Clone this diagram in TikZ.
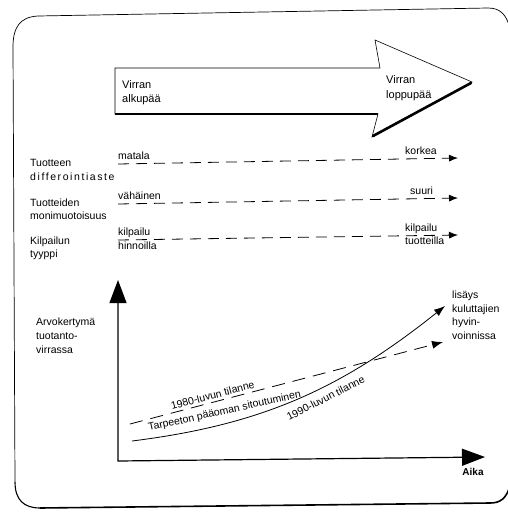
\documentclass[tikz,border=0pt]{standalone}
\usepackage{fontspec}
\setmainfont{Liberation Sans}
\newfontfamily\widefont[LetterSpace=15]{Liberation Sans}
\usetikzlibrary{arrows.meta}
\begin{document}
\begin{tikzpicture}[x=1pt,y=-1pt,
  txt/.style={font=\fontsize{10.5}{12.5}\selectfont, inner sep=0pt, anchor=west, text height=7.5pt, text depth=2pt},
  bigtxt/.style={font=\fontsize{11}{13}\selectfont, inner sep=0pt, anchor=west, text height=8pt, text depth=2pt},
  curvetxt/.style={font=\fontsize{10.5}{12}\selectfont, inner sep=0pt, anchor=base west},
  rowline/.style={line width=0.8pt, dash pattern=on 11pt off 7pt, -{Latex[length=9pt,width=7pt]}},
  axisline/.style={line width=1.2pt, {Triangle[length=23pt,width=17pt]}-{Triangle[length=23pt,width=17pt]}},
  chartline/.style={line width=0.8pt, -{Latex[length=11pt,width=8pt]}},
  frame/.style={line width=0.7pt}
]
\useasboundingbox (0,0) rectangle (507,512);

% frame
\draw[frame] (15,482) -- (13,47) .. controls (13,27) and (20,17) .. (38,16) -- (488,8)
  .. controls (500,8) and (506,14) .. (510,28);
\draw[line width=1.1pt] (40,508) .. controls (24,508) and (15,500) .. (15,482);
\draw[line width=1.6pt] (510,486) .. controls (506,499) and (500,503) .. (490,503) -- (40,508);

% big arrow
\draw[line width=0.6pt] (115,68) -- (380,68) -- (375,40) -- (472,82) -- (372,137) -- (378,114) -- (115,114) -- cycle;
\draw[line width=1.8pt] (115,114) -- (378,114);
\draw[line width=2.6pt, line cap=round] (471,83) -- (373,136);
\node[bigtxt] (va1) at (122,85) {Virran};
\node[bigtxt] (va2) at (122,99) {alkupää};
\node[bigtxt] (vl1) at (386,80) {Virran};
\node[bigtxt] (vl2) at (386,95) {loppupää};

% row 1
\node[txt] (t1a) at (30,164) {Tuotteen};
\node[txt] (t1b) at (30,178) {{\widefont differointiaste}};
\coordinate (r1s) at (118,164);
\coordinate (r1e) at (458,158);
\draw[rowline] (r1s) -- (r1e);
\node[txt] (r1l) at (118,157) {matala};
\node[txt] (r1r) at (405,152) {korkea};

% row 2
\node[txt] (t2a) at (30,204) {Tuotteiden};
\node[txt] (t2b) at (30,217) {monimuotoisuus};
\coordinate (r2s) at (118,204);
\coordinate (r2e) at (458,198);
\draw[rowline] (r2s) -- (r2e);
\node[txt] (r2l) at (118,197) {vähäinen};
\node[txt] (r2r) at (410,192) {suuri};

% row 3
\node[txt] (t3a) at (30,242) {Kilpailun};
\node[txt] (t3b) at (30,255) {tyyppi};
\coordinate (r3s) at (118,240);
\coordinate (r3e) at (458,235);
\draw[rowline] (r3s) -- (r3e);
\node[txt] (r3l1) at (118,233) {kilpailu};
\node[txt] (r3l2) at (118,247) {hinnoilla};
\node[txt] (r3r1) at (405,229) {kilpailu};
\node[txt] (r3r2) at (405,242) {tuotteilla};

% chart
\coordinate (O) at (118,461);
\coordinate (Ytip) at (118,280);
\coordinate (Xtip) at (485,457);
\draw[axisline] (Ytip) -- (O) -- (Xtip);
\node[font=\fontsize{10}{12}\selectfont\bfseries, inner sep=0pt] (aika) at (473,472) {Aika};

\node[txt] (ya1) at (36,323) {Arvokertymä};
\node[txt] (ya2) at (36,337) {tuotanto-};
\node[txt] (ya3) at (36,351) {virrassa};

\coordinate (d0) at (130,424);
\coordinate (d1) at (443,342);
\draw[chartline, dash pattern=on 13pt off 8pt] (d0) -- (d1);
\coordinate (s0) at (132,441);
\coordinate (s1) at (445,306);
\draw[chartline] (s0) .. controls (260,425) and (340,390) .. (s1);

\node[curvetxt, rotate=15] (l80) at (172,410) {1980-luvun tilanne};
\node[curvetxt, rotate=12.5] (ltp) at (149,431) {Tarpeeton pääoman sitoutuminen};
\node[curvetxt, rotate=27] (l90) at (289,421) {1990-luvun tilanne};

\node[txt] (e1) at (452,296) {lisäys};
\node[txt] (e2) at (452,310) {kuluttajien};
\node[txt] (e3) at (452,323) {hyvin-};
\node[txt] (e4) at (452,337) {voinnissa};
\end{tikzpicture}
\end{document}
